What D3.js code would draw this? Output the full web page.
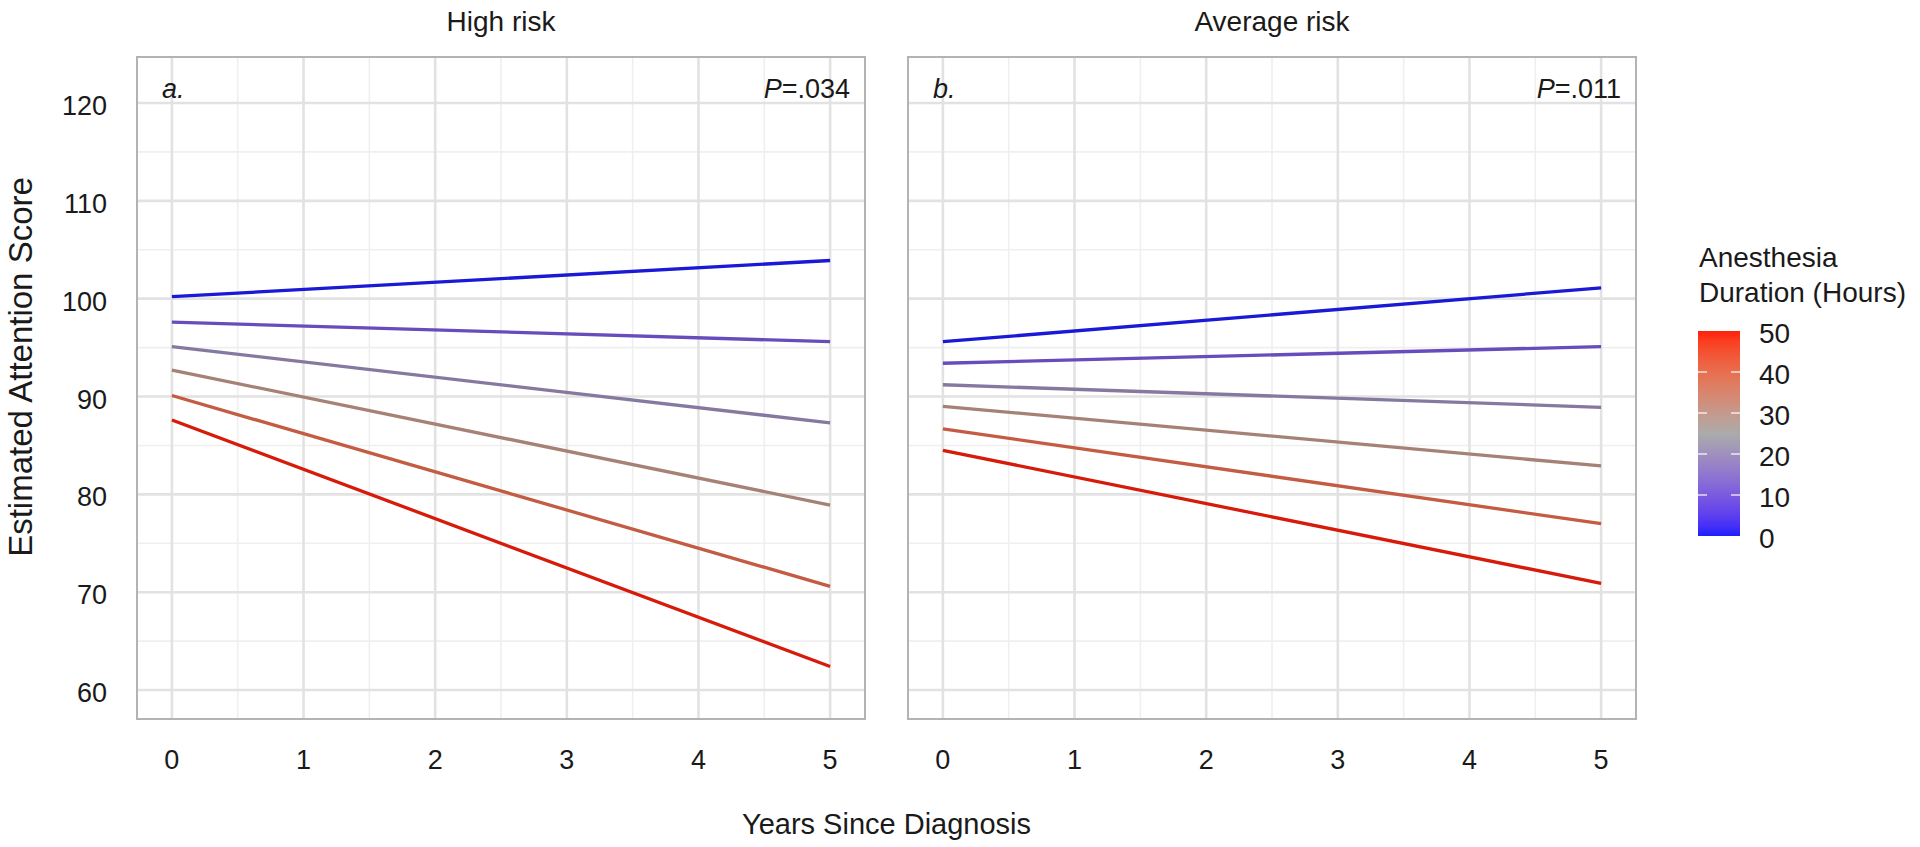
<!DOCTYPE html>
<html>
<head>
<meta charset="utf-8">
<script src="https://cdn.jsdelivr.net/npm/d3@7"></script>
<style>
  html, body { margin: 0; padding: 0; background: #ffffff; }
  svg { display: block; font-family: "Liberation Sans", Arial, Helvetica, sans-serif; }
</style>
</head>
<body>
<svg id="chart" width="1920" height="847"></svg>
<script>
// ---------- data ----------
const panelTitles = ["High risk", "Average risk"];
const panelLetters = ["a.", "b."];
const panelPValues = [".034", ".011"];
const durations = [0, 10, 20, 30, 40, 50];
const years = [0, 5];
// estimated attention score at year 0 and year 5, per anesthesia duration
const highRiskStart = [100.2, 97.6, 95.1, 92.7, 90.1, 87.6];
const highRiskEnd   = [103.9, 95.6, 87.3, 78.9, 70.6, 62.4];
const avgRiskStart  = [95.6, 93.4, 91.2, 89.0, 86.7, 84.5];
const avgRiskEnd    = [101.1, 95.1, 88.9, 82.9, 77.0, 70.9];
const xTicks = [0, 1, 2, 3, 4, 5];
const yTicks = [60, 70, 80, 90, 100, 110, 120];
const legendTicks = [0, 10, 20, 30, 40, 50];

// ---------- layout ----------
const svg = d3.select("#chart");
const plotTop = 57, plotBottom = 719;
const panels = [{ left: 137, right: 865 }, { left: 908, right: 1636 }];
const seriesByPanel = [[highRiskStart, highRiskEnd], [avgRiskStart, avgRiskEnd]];

const y = d3.scaleLinear().domain([57.04, 124.70]).range([plotBottom, plotTop]);
const color = d3.scaleLinear()
  .domain([0, 25, 50])
  .range(["#1e1eff", "#ababab", "#ff200c"])
  .interpolate(d3.interpolateLab);
const lineColor = v => d3.interpolateRgb(color(v), "#000000")(0.16);

panels.forEach((p, pi) => {
  const x = d3.scaleLinear().domain([-0.265, 5.265]).range([p.left, p.right]);
  const g = svg.append("g");

  g.append("rect").attr("x", p.left).attr("y", plotTop)
    .attr("width", p.right - p.left).attr("height", plotBottom - plotTop).attr("fill", "#ffffff");

  // minor grid
  const yMinor = d3.range(65, 120, 10);
  const xMinor = d3.range(0.5, 5, 1);
  g.selectAll(".ymin").data(yMinor).enter().append("line")
    .attr("x1", p.left).attr("x2", p.right)
    .attr("y1", d => y(d)).attr("y2", d => y(d))
    .attr("stroke", "#efefef").attr("stroke-width", 1.6);
  g.selectAll(".xmin").data(xMinor).enter().append("line")
    .attr("y1", plotTop).attr("y2", plotBottom)
    .attr("x1", d => x(d)).attr("x2", d => x(d))
    .attr("stroke", "#efefef").attr("stroke-width", 1.6);
  // major grid
  g.selectAll(".ymaj").data(yTicks).enter().append("line")
    .attr("x1", p.left).attr("x2", p.right)
    .attr("y1", d => y(d)).attr("y2", d => y(d))
    .attr("stroke", "#e2e2e2").attr("stroke-width", 2.6);
  g.selectAll(".xmaj").data(xTicks).enter().append("line")
    .attr("y1", plotTop).attr("y2", plotBottom)
    .attr("x1", d => x(d)).attr("x2", d => x(d))
    .attr("stroke", "#e2e2e2").attr("stroke-width", 2.6);

  // lines
  const [starts, ends] = seriesByPanel[pi];
  const line = d3.line().x(d => x(d[0])).y(d => y(d[1]));
  durations.forEach((dur, i) => {
    const pts = [[years[0], starts[i]], [years[1], ends[i]]];
    g.append("path").datum(pts)
      .attr("d", line)
      .attr("fill", "none")
      .attr("stroke", lineColor(dur))
      .attr("stroke-width", 3.3)
      .attr("stroke-linecap", "butt");
  });

  // frame
  g.append("rect").attr("x", p.left).attr("y", plotTop)
    .attr("width", p.right - p.left).attr("height", plotBottom - plotTop)
    .attr("fill", "none").attr("stroke", "#b3b3b3").attr("stroke-width", 2);

  // strip title
  svg.append("text").attr("x", (p.left + p.right) / 2).attr("y", 31)
    .attr("text-anchor", "middle").attr("font-size", 28).attr("fill", "#1a1a1a")
    .text(panelTitles[pi]);

  // panel letter and P value
  svg.append("text").attr("x", p.left + 25).attr("y", 98)
    .attr("font-size", 27).attr("font-style", "italic").attr("fill", "#1a1a1a")
    .text(panelLetters[pi]);
  const pt = svg.append("text").attr("x", p.right - 15).attr("y", 98)
    .attr("text-anchor", "end").attr("font-size", 27).attr("fill", "#1a1a1a");
  pt.append("tspan").attr("font-style", "italic").text("P");
  pt.append("tspan").text("=" + panelPValues[pi]);

  // x axis tick labels
  svg.append("g").selectAll("text").data(xTicks).enter().append("text")
    .attr("x", d => x(d)).attr("y", 769)
    .attr("text-anchor", "middle").attr("font-size", 27).attr("fill", "#1a1a1a")
    .text(d => d);
});

// y axis tick labels
svg.append("g").selectAll("text").data(yTicks).enter().append("text")
  .attr("x", 107).attr("y", d => y(d) + 12)
  .attr("text-anchor", "end").attr("font-size", 27).attr("fill", "#1a1a1a")
  .text(d => d);

// axis titles
svg.append("text").attr("x", (panels[0].left + panels[1].right) / 2).attr("y", 834)
  .attr("text-anchor", "middle").attr("font-size", 29).attr("fill", "#1a1a1a")
  .text("Years Since Diagnosis");
svg.append("text")
  .attr("transform", `translate(32, ${(plotTop + plotBottom) / 2 - 21}) rotate(-90)`)
  .attr("text-anchor", "middle").attr("font-size", 33).attr("fill", "#1a1a1a")
  .text("Estimated Attention Score");

// ---------- legend ----------
const legX = 1698, legW = 42;
const ly = d3.scaleLinear().domain([0, 50]).range([536, 331]);
const defs = svg.append("defs");
const grad = defs.append("linearGradient").attr("id", "legGrad")
  .attr("x1", 0).attr("y1", 1).attr("x2", 0).attr("y2", 0);
d3.range(0, 51, 2.5).forEach(v => {
  grad.append("stop").attr("offset", v / 50).attr("stop-color", color(v));
});
svg.append("rect").attr("x", legX).attr("y", ly(50))
  .attr("width", legW).attr("height", ly(0) - ly(50))
  .attr("fill", "url(#legGrad)");
legendTicks.filter(d => d > 0 && d < 50).forEach(d => {
  svg.append("line").attr("x1", legX).attr("x2", legX + 9)
    .attr("y1", ly(d)).attr("y2", ly(d)).attr("stroke", "#ffffff").attr("stroke-width", 1.5).attr("opacity", 0.8);
  svg.append("line").attr("x1", legX + legW - 9).attr("x2", legX + legW)
    .attr("y1", ly(d)).attr("y2", ly(d)).attr("stroke", "#ffffff").attr("stroke-width", 1.5).attr("opacity", 0.8);
});
svg.append("g").selectAll("text").data(legendTicks).enter().append("text")
  .attr("x", 1759).attr("y", d => ly(d) + 12)
  .attr("font-size", 28).attr("fill", "#1a1a1a")
  .text(d => d);
svg.append("text").attr("x", 1699).attr("y", 267)
  .attr("font-size", 28).attr("fill", "#1a1a1a").text("Anesthesia");
svg.append("text").attr("x", 1699).attr("y", 302)
  .attr("font-size", 28).attr("fill", "#1a1a1a").text("Duration (Hours)");
</script>
</body>
</html>
